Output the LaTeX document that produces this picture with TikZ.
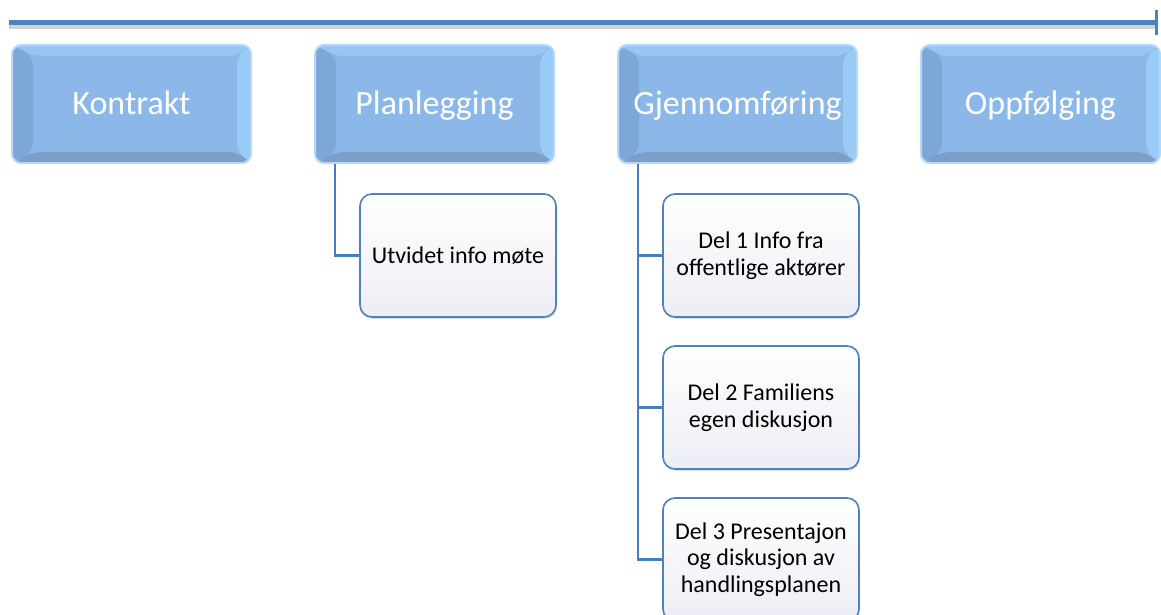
\documentclass[tikz,border=0pt]{standalone}
\usepackage{fontspec}
\setmainfont{Carlito}
\usetikzlibrary{calc,arrows.meta,shadows}

\definecolor{linkblue}{HTML}{4A7EBB}
\definecolor{timeblue}{HTML}{4F81BD}
\definecolor{timeshade}{HTML}{D2D2D2}
\definecolor{phasefill}{HTML}{8BB8E8}
\definecolor{phaseglow}{HTML}{B4D8FA}
\definecolor{beveltop}{HTML}{98C6F2}
\definecolor{bevelleft}{HTML}{7DA7D7}
\definecolor{bevelbottom}{HTML}{7D9EC8}
\definecolor{bevelright}{HTML}{99CBF7}
\definecolor{stepedge}{HTML}{4F81BD}
\definecolor{stepbottom}{HTML}{EDEDF5}

\tikzset{
	phase/.style={
		rounded corners=9, minimum width=239, minimum height=118, inner sep=0,
		fill=phasefill, draw=phaseglow, line width=2,
		text=white, font=\fontsize{34}{40}\selectfont, text height=20, text depth=0,
		path picture={
			\fill[beveltop] (path picture bounding box.north west) -- (path picture bounding box.north east)
				-- ([shift={(-14,-11)}]path picture bounding box.north east)
				-- ([shift={(21,-11)}]path picture bounding box.north west) -- cycle;
			\fill[bevelleft] (path picture bounding box.north west) -- (path picture bounding box.south west)
				-- ([shift={(21,11)}]path picture bounding box.south west)
				-- ([shift={(21,-11)}]path picture bounding box.north west) -- cycle;
			\fill[bevelbottom] (path picture bounding box.south west) -- (path picture bounding box.south east)
				-- ([shift={(-14,11)}]path picture bounding box.south east)
				-- ([shift={(21,11)}]path picture bounding box.south west) -- cycle;
			\fill[bevelright] (path picture bounding box.north east) -- (path picture bounding box.south east)
				-- ([shift={(-14,11)}]path picture bounding box.south east)
				-- ([shift={(-14,-11)}]path picture bounding box.north east) -- cycle;
		}
	},
	stepbox/.style={
		rounded corners=12, minimum width=196, minimum height=123, inner sep=0,
		top color=white, bottom color=stepbottom, draw=stepedge, line width=1.6,
		drop shadow={opacity=0.25, shadow xshift=1, shadow yshift=-2},
		align=center, font=\fontsize{24}{26.7}\selectfont
	},
	link/.style={draw=linkblue, line width=2.5},
}

\begin{document}
\begin{tikzpicture}[x=1pt, y=1pt]

% parameters %{{{2

	\def\xfirst{131.5}
	\def\xstep{303}
	\def\ytop{-104}
	\def\ystep{152}

	\useasboundingbox (0,0) rectangle (1161,-615);

% timeline %{{{2

	\coordinate (tl west) at (9,-22.5);
	\coordinate (tl east) at (1158,-22.5);

	\draw[timeshade, line width=4] ($(tl west)+(0,-4.5)$) -- ($(tl east)+(0,-4.5)$);
	\draw[timeblue, line width=5, -{Bar[width=25, line width=3]}] (tl west) -- (tl east);

% phases %{{{2

	\foreach \name/\txt [count=\i] in {kontrakt/Kontrakt, plan/Planlegging, gjennom/Gjennomføring, oppf/Oppfølging} {
		\node[phase] (\name) at ({\xfirst+(\i-1)*\xstep},\ytop) {\txt};
	}

% steps %{{{2

	\node[stepbox] (utvidet) at (458,-255.5) {Utvidet info møte};

	\node[stepbox] (del1) at (761,-255.5) {Del 1 Info fra\\offentlige aktører};
	\node[stepbox] (del2) at (761,{-255.5-\ystep}) {Del 2 Familiens\\egen diskusjon};
	\node[stepbox] (del3) at (761,{-255.5-2*\ystep}) {Del 3 Presentajon\\og diskusjon av\\handlingsplanen};

% links %{{{2

	\draw[link] ($(plan.south west)+(21,0)$) |- (utvidet.west);

	\foreach \c in {del1,del2,del3} {
		\draw[link] ($(gjennom.south west)+(21,0)$) |- (\c.west);
	}

% closing %{{{2

\end{tikzpicture}
\end{document}
